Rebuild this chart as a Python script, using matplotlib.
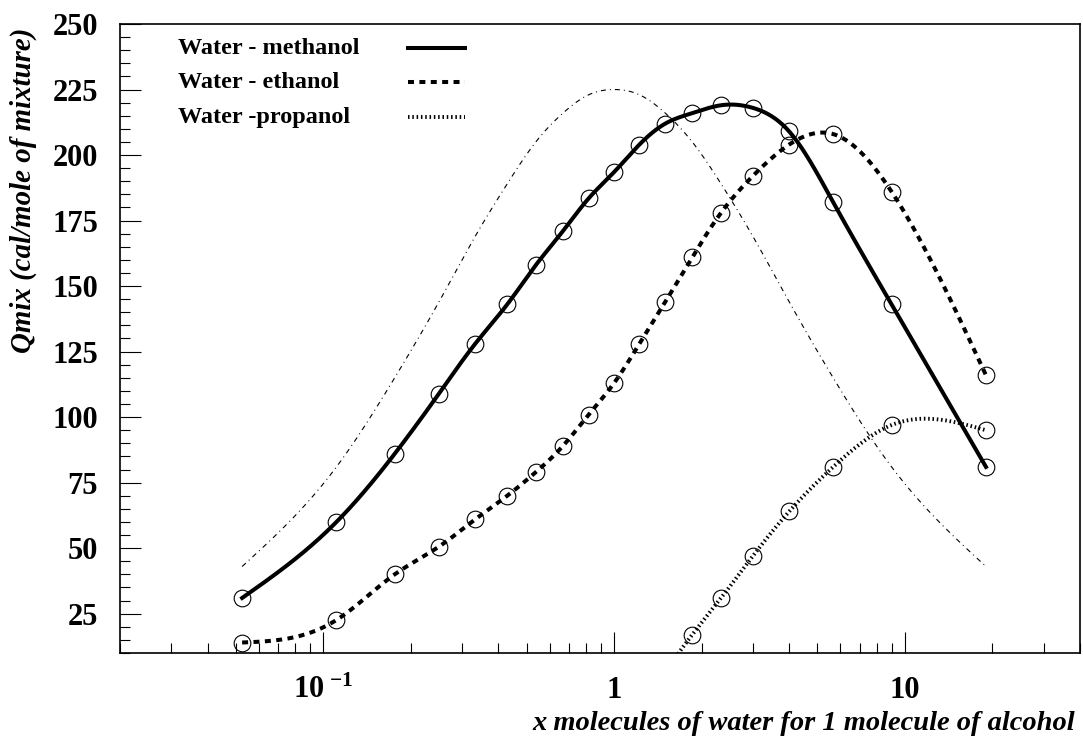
import numpy as np
import matplotlib
matplotlib.use('Agg')
import matplotlib.pyplot as plt
from matplotlib.ticker import FixedLocator, MultipleLocator, LogLocator, NullFormatter
from matplotlib.lines import Line2D

# ---------------- data ----------------
x_water = [0.0526, 0.111, 0.176, 0.25, 0.333, 0.429, 0.538, 0.667, 0.818, 1.0,
           1.222, 1.5, 1.857, 2.333, 3.0, 4.0, 5.667, 9.0, 19.0]
q_methanol = [31, 60, 86, 109, 128, 143, 158, 171, 183.5, 193.5,
              204, 212, 216, 219, 218, 209, 182, 143, 81]
q_ethanol = [14, 22.6, 40, 50.6, 61, 70, 79, 89, 101, 113,
             128, 144, 161, 178, 192, 204, 208, 186, 116]
x_propanol = [1.5, 1.857, 2.333, 3.0, 4.0, 5.667, 9.0, 19.0]
q_propanol = [3, 17, 31, 47, 64, 81, 97, 95]
q_ideal = [43, 81, 115, 144, 169, 189, 205, 216, 223, 225,
           223, 216, 205, 189, 169, 144, 115, 81, 43]

series_labels = ["Water - methanol", "Water - ethanol", "Water -propanol"]
y_ticks = [25, 50, 75, 100, 125, 150, 175, 200, 225, 250]
x_ticks = [0.1, 1, 10]
x_ticklabels = [r'$\mathbf{10}^{\ \mathbf{-1}}$', '1', '10']

# ---------------- style ----------------
plt.rcParams['font.family'] = ['Liberation Serif', 'DejaVu Serif']
plt.rcParams['font.weight'] = 'bold'
plt.rcParams['mathtext.fontset'] = 'custom'
plt.rcParams['mathtext.rm'] = 'Liberation Serif:bold'
plt.rcParams['mathtext.bf'] = 'Liberation Serif:bold'
plt.rcParams['mathtext.it'] = 'Liberation Serif:bold:italic'
plt.rcParams['lines.scale_dashes'] = False


def natural_spline(xs, ys, xq):
    xs = np.asarray(xs, float); ys = np.asarray(ys, float)
    n = len(xs)
    h = np.diff(xs)
    A = np.zeros((n, n)); r = np.zeros(n)
    A[0, 0] = 1.0; A[-1, -1] = 1.0
    for i in range(1, n - 1):
        A[i, i - 1] = h[i - 1]
        A[i, i] = 2 * (h[i - 1] + h[i])
        A[i, i + 1] = h[i]
        r[i] = 6 * ((ys[i + 1] - ys[i]) / h[i] - (ys[i] - ys[i - 1]) / h[i - 1])
    M = np.linalg.solve(A, r)
    idx = np.clip(np.searchsorted(xs, xq) - 1, 0, n - 2)
    x0 = xs[idx]; x1 = xs[idx + 1]; hh = x1 - x0
    a = (x1 - xq) / hh; b = (xq - x0) / hh
    return (a * ys[idx] + b * ys[idx + 1]
            + ((a ** 3 - a) * M[idx] + (b ** 3 - b) * M[idx + 1]) * hh ** 2 / 6)


def smooth(xs, ys):
    u = np.log10(xs)
    uq = np.linspace(u[0], u[-1], 600)
    return 10 ** uq, natural_spline(u, ys, uq)


W, H = 1083, 736
fig = plt.figure(figsize=(W / 100, H / 100), dpi=100)
L, R, T, B = 120, 1080, 24, 653
ax = fig.add_axes([L / W, 1 - B / H, (R - L) / W, (B - T) / H])
ax.set_xscale('log')
ax.set_xlim(0.02, 40)
ax.set_ylim(10, 250)

lw_main = 2.9
style_meth = dict(color='black', lw=lw_main, ls='-')
style_eth = dict(color='black', lw=lw_main, ls=(0, (4.3, 3.9)))
style_prop = dict(color='black', lw=2.8, ls=(0, (1.1, 2.0)))

# ideal curve (thin dash-dot)
xs, ys = smooth(x_water, q_ideal)
ax.plot(xs, ys, color='black', lw=0.8, ls=(0, (3.6, 2.9, 0.7, 2.9)))

xs, ys = smooth(x_water, q_methanol)
ax.plot(xs, ys, **style_meth)
xs, ys = smooth(x_water, q_ethanol)
ax.plot(xs, ys, **style_eth)
xs, ys = smooth(x_propanol, q_propanol)
ax.plot(xs, ys, **style_prop)

mk = dict(ls='none', marker='o', ms=12, mfc='none', mec='black', mew=0.8)
ax.plot(x_water, q_methanol, **mk)
ax.plot(x_water, q_ethanol, **mk)
ax.plot(x_propanol, q_propanol, **mk)

# axes style
for s in ax.spines.values():
    s.set_linewidth(1.2)
ax.xaxis.set_major_locator(FixedLocator(x_ticks))
ax.set_xticklabels(x_ticklabels)
ax.xaxis.set_minor_locator(LogLocator(base=10, subs=np.arange(2, 10)))
ax.xaxis.set_minor_formatter(NullFormatter())
ax.yaxis.set_major_locator(FixedLocator(y_ticks))
ax.set_yticklabels([str(v) for v in y_ticks])
ax.yaxis.set_minor_locator(MultipleLocator(5))
ax.tick_params(which='both', direction='in', top=False, right=False, width=0.8)
ax.tick_params(which='major', length=15)
ax.tick_params(which='minor', length=7.2)
ax.tick_params(axis='y', labelsize=22, pad=15.8)
ax.tick_params(axis='x', labelsize=22, pad=32.5)
for t in ax.xaxis.get_major_ticks():
    t.label1.set_va('baseline')
for t in ax.get_yticklabels():
    t.set_fontweight('bold')
for t in ax.get_xticklabels():
    t.set_fontweight('bold')

# legend (no frame): text left, line sample right
styles = [style_meth, style_eth, style_prop]
text_base = [54.3, 88.3, 122.7]
line_y = [47.7, 81.7, 116.7]
for lab, st, tb, ly in zip(series_labels, styles, text_base, line_y):
    ax.text((178 - L) / (R - L), (B - tb) / (B - T), lab, transform=ax.transAxes,
            fontsize=17.5, fontweight='bold', ha='left', va='baseline')
    fy = (B - ly) / (B - T)
    ax.add_line(Line2D([(408 - L) / (R - L), (465 - L) / (R - L)], [fy, fy],
                       transform=ax.transAxes, **st))

# axis titles
fig.text(1075 / W, 1 - 730 / H, 'x molecules of water for 1 molecule of alcohol',
         ha='right', va='baseline', fontsize=20.5, fontweight='bold', fontstyle='italic')
fig.text(23 / W, 1 - 28 / H, 'Qmix (cal/mole of mixture)', rotation=90,
         ha='center', va='top', fontsize=20.8, fontweight='bold', fontstyle='italic')

fig.savefig('out.png', dpi=100)
